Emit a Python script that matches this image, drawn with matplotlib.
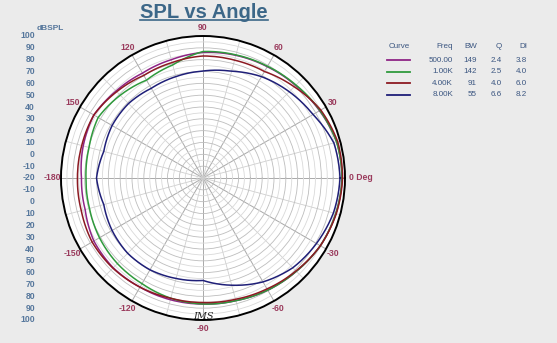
import numpy as np
import matplotlib
matplotlib.use('Agg')
import matplotlib.pyplot as plt
from matplotlib.lines import Line2D

plt.rcParams['font.family'] = ['Liberation Sans', 'DejaVu Sans']

# angles in degrees, levels in dBSPL (centre of the plot is -20 dB)
angles = [0, 15, 30, 45, 60, 75, 90, 105, 120, 135, 150, 165,
          180, 195, 210, 225, 240, 255, 270, 285, 300, 315, 330, 345]

spl_500 = [97.5, 97.0, 93.7, 90.7, 88.6, 87.3, 86.1, 83.5, 82.3, 83.9, 86.5, 84.8,
           82.7, 83.1, 86.5, 87.3, 86.5, 86.5, 86.5, 87.3, 89.4, 91.5, 94.5, 96.2]
spl_1k = [97.5, 97.0, 94.1, 91.1, 89.0, 87.7, 86.9, 78.9, 75.5, 78.9, 82.3, 79.7,
          78.9, 79.3, 81.0, 82.3, 83.1, 85.2, 86.5, 87.3, 89.4, 91.5, 94.5, 96.2]
spl_4k = [97.9, 97.9, 94.9, 89.0, 83.9, 83.1, 83.1, 81.0, 80.1, 83.1, 86.5, 86.1,
          86.1, 86.5, 88.2, 87.7, 86.5, 85.2, 85.2, 86.1, 88.2, 91.1, 94.5, 96.6]
spl_8k = [95.8, 94.5, 87.3, 83.1, 78.9, 73.4, 70.4, 68.7, 67.5, 69.0, 68.7, 66.8,
          70.0, 66.8, 68.7, 70.0, 69.6, 67.9, 66.6, 73.8, 81.4, 87.3, 90.7, 94.1]

curve_colors = ['#8e2486', '#2f9a3c', '#8c1a22', '#1f1f78']
freqs = ['500.00', '1.00K', '4.00K', '8.00K']
bws = ['149', '142', '91', '55']
qs = ['2.4', '2.5', '4.0', '6.6']
dis = ['3.8', '4.0', '6.0', '8.2']

angle_labels = {0: '0 Deg', 30: '30', 60: '60', 90: '90', 120: '120', 150: '150',
                180: '-180', 210: '-150', 240: '-120', 270: '-90', 300: '-60', 330: '-30'}
scale_vals = [100, 90, 80, 70, 60, 50, 40, 30, 20, 10, 0, -10, -20]

W, H = 557, 343
fig = plt.figure(figsize=(W / 100, H / 100), dpi=100, facecolor='#ebebeb')

cx, cy, rad = 203, 178, 142
ax = fig.add_axes([(cx - rad) / W, (H - cy - rad) / H, 2 * rad / W, 2 * rad / H],
                  projection='polar')
ax.set_facecolor('white')
ax.set_ylim(-20, 100)

ax.set_xticks(np.deg2rad(np.arange(0, 360, 30)))
ax.set_xticks(np.deg2rad(np.arange(15, 360, 30)), minor=True)
ax.set_yticks(np.arange(-10, 100, 10))
ax.set_yticks(np.arange(-15, 100, 10), minor=True)
ax.set_xticklabels([])
ax.set_yticklabels([])
ax.tick_params(which='both', length=0)
ax.xaxis.grid(True, which='major', color='#a9a9a9', lw=0.7)
ax.xaxis.grid(True, which='minor', color='#cfcfcf', lw=0.6)
ax.yaxis.grid(True, which='major', color='#bdbdbd', lw=0.6)
ax.yaxis.grid(True, which='minor', color='#d9d9d9', lw=0.6)
ax.spines['polar'].set_color('black')
ax.spines['polar'].set_linewidth(1.4)

th = np.deg2rad(angles + [360])
for vals, col in zip([spl_500, spl_1k, spl_4k, spl_8k], curve_colors):
    ln, = ax.plot(th, vals + vals[:1], color=col, lw=1.1)
    # draw each segment as a polar arc instead of a straight chord
    ln.get_path()._interpolation_steps = 12

rose = '#9a3a5c'
for a, txt in angle_labels.items():
    if a == 0:
        ax.text(0, 103.5, txt, color=rose, fontsize=6.2, fontweight='bold',
                ha='left', va='center')
    else:
        ax.text(np.deg2rad(a), 107, txt, color=rose, fontsize=6.2, fontweight='bold',
                ha='center', va='center')

ax.text(np.deg2rad(-90), 97, 'IMS', fontsize=7, style='italic', family='DejaVu Serif',
        ha='center', va='center', color='#222222')

# dBSPL scale at the left, top half and mirrored bottom half
steel = '#56779c'
inv = fig.transFigure.inverted()
for half, t in [(scale_vals, np.pi / 2), (scale_vals[:-1], -np.pi / 2)]:
    for v in half:
        y = inv.transform(ax.transData.transform((t, v)))[1]
        fig.text(35 / W, y, str(v), color=steel, fontsize=6.2, fontweight='bold',
                 ha='right', va='center')
fig.text(37 / W, 1 - 29 / H, 'dBSPL', color=steel, fontsize=6, fontweight='bold',
         ha='left', va='center')

title = fig.text(204 / W, 1 - 12 / H, 'SPL vs Angle', color='#3c6788', fontsize=14.5,
                 fontweight='bold', ha='center', va='center')
fig.canvas.draw()
bb = title.get_window_extent().transformed(inv)
fig.add_artist(Line2D([bb.x0, bb.x1], [bb.y0 + 0.004, bb.y0 + 0.004],
                      transform=fig.transFigure, color='#3c6788', lw=1.2))

# curve table on the right
hdr = '#3a5580'
rows_y = [60, 71.7, 83.3, 95]
fig.text(399 / W, 1 - 47 / H, 'Curve', color=hdr, fontsize=5.8, ha='center', va='center')
for x, lab in [(453, 'Freq'), (477, 'BW'), (502, 'Q'), (527, 'DI')]:
    fig.text(x / W, 1 - 47 / H, lab, color=hdr, fontsize=5.8, ha='right', va='center')
for i, y in enumerate(rows_y):
    yf = 1 - y / H
    fig.add_artist(Line2D([387 / W, 410 / W], [yf, yf], transform=fig.transFigure,
                          color=curve_colors[i], lw=1.3))
    for x, lab in [(453, freqs[i]), (477, bws[i]), (502, qs[i]), (527, dis[i])]:
        fig.text(x / W, yf, lab, color=hdr, fontsize=5.8, ha='right', va='center')

fig.savefig('out.png', dpi=100, facecolor=fig.get_facecolor())
